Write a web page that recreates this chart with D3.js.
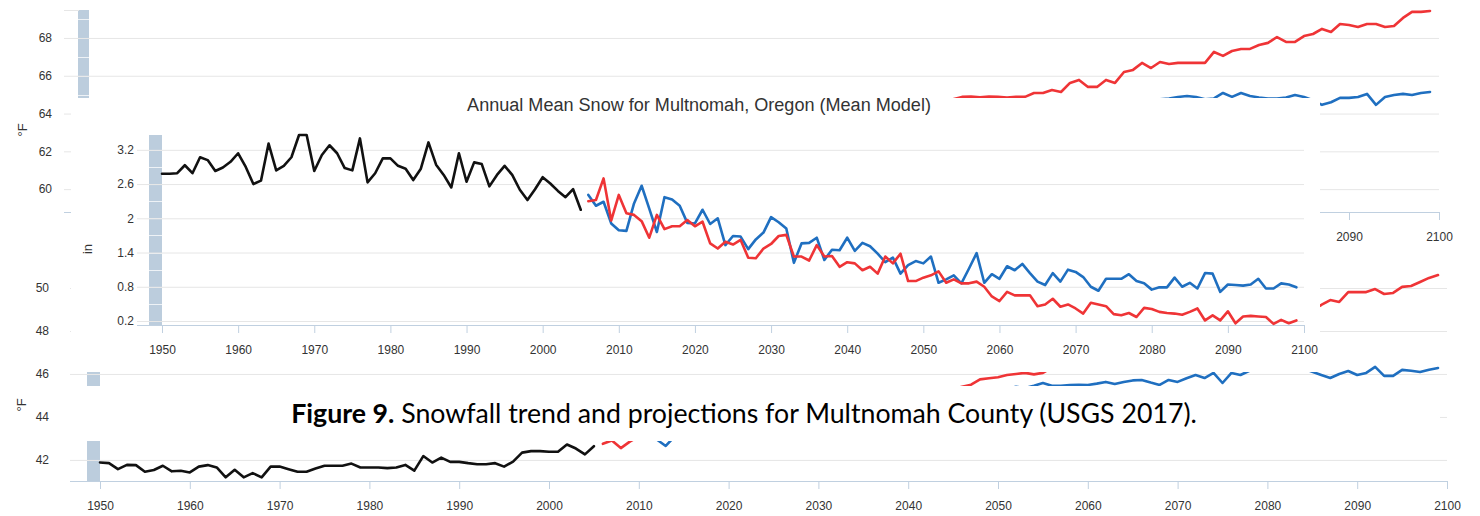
<!DOCTYPE html>
<html><head><meta charset="utf-8">
<script src="https://cdn.jsdelivr.net/npm/d3@7"></script>
<style>
body{margin:0;background:#fff;}
svg{display:block;font-family:"Liberation Sans",Arial,sans-serif;}
</style>
</head><body>
<svg id="c" width="1480" height="516"></svg>
<script>
// ---------------- DATA ----------------
const yearTicks = [1950,1960,1970,1980,1990,2000,2010,2020,2030,2040,2050,2060,2070,2080,2090,2100];

// Snow (inches) - Annual Mean Snow for Multnomah, Oregon
const snowYTicks = [0.2,0.8,1.4,2,2.6,3.2];
const snowHistStart = 1950;
const snowHist = [2.78,2.78,2.79,2.93,2.79,3.07,3.02,2.83,2.89,2.99,
  3.14,2.90,2.60,2.66,3.31,2.84,2.92,3.07,3.46,3.46,
  2.83,3.11,3.28,3.14,2.88,2.84,3.40,2.63,2.79,3.05,
  3.05,2.92,2.87,2.67,2.87,3.33,2.94,2.76,2.54,3.14,
  2.64,2.98,2.95,2.56,2.76,2.92,2.76,2.50,2.32,2.51,
  2.72,2.61,2.48,2.37,2.51,2.15];
const projStart = 2006;
const snowRcp85 = [2.30,2.32,2.70,1.96,
  2.41,2.09,2.06,1.95,1.66,2.06,1.81,1.86,1.86,1.97,
  1.86,1.94,1.56,1.47,1.59,1.54,1.62,1.31,1.30,1.47,
  1.55,1.69,1.71,1.33,1.33,1.26,1.53,1.33,1.34,1.15,
  1.23,1.21,1.09,1.15,1.03,1.33,1.21,1.38,0.90,0.90,
  0.96,1.00,1.07,0.87,0.93,0.86,0.86,0.89,0.80,0.63,
  0.55,0.71,0.65,0.65,0.65,0.46,0.49,0.59,0.45,0.49,
  0.42,0.33,0.52,0.49,0.46,0.32,0.30,0.34,0.27,0.43,
  0.41,0.36,0.34,0.33,0.31,0.36,0.42,0.21,0.30,0.21,
  0.37,0.16,0.28,0.29,0.28,0.27,0.15,0.22,0.16,0.21];
const snowRcp45 = [2.41,2.22,2.29,1.91,
  1.79,1.78,2.26,2.57,2.17,1.76,2.37,2.33,2.22,1.92,
  1.91,2.15,1.90,2.00,1.53,1.69,1.68,1.46,1.63,1.75,
  2.02,1.93,1.82,1.22,1.56,1.57,1.66,1.27,1.45,1.44,
  1.66,1.43,1.57,1.51,1.38,1.23,1.31,1.03,1.18,1.25,
  1.21,1.33,0.87,0.93,1.00,0.86,1.12,1.39,0.87,1.02,
  0.94,1.16,1.09,1.20,1.04,0.89,0.83,1.04,0.89,1.10,
  1.06,0.97,0.80,0.73,0.94,0.94,0.94,1.02,0.90,0.86,
  0.75,0.79,0.79,0.96,0.80,0.87,0.77,1.04,1.03,0.71,
  0.84,0.83,0.82,0.84,0.94,0.77,0.77,0.86,0.84,0.79];

// Background chart 1 (°F, upper) - visible tail of projections
const tmaxYTicks = [60,62,64,66,68];
const tmaxRcp85Start = 2046;
const tmaxRcp85 = [64.75,64.88,64.9,64.86,64.9,
  64.88,64.85,64.88,64.88,65.09,65.09,65.25,65.14,65.62,
  65.78,65.41,65.41,65.78,65.62,66.2,66.31,66.68,66.41,66.73,
  66.62,66.68,66.68,66.68,66.68,67.26,67.05,67.31,67.42,67.42,
  67.63,67.74,68.05,67.79,67.79,68.1,68.21,68.48,68.32,68.74,
  68.69,68.58,68.74,68.74,68.58,68.63,69.06,69.38,69.38,69.43];
const tmaxRcp45Start = 2066;
const tmaxRcp45 = [64.6,64.7,64.65,64.75,64.8,
  64.88,64.93,64.88,64.75,64.8,65.09,64.88,65.09,64.93,
  64.85,64.8,64.8,64.85,64.98,64.88,64.7,64.46,64.6,64.83,
  64.83,64.88,65.04,64.46,64.88,64.98,65.04,64.98,65.09,65.14];

// Background chart 2 (°F, lower)
const tminYTicks = [42,44,46,48,50];
const tminHist = [41.88,41.85,41.57,41.77,41.76,41.45,41.53,41.73,41.47,41.50,
  41.42,41.69,41.76,41.65,41.19,41.54,41.19,41.39,41.19,41.69,
  41.69,41.57,41.45,41.45,41.60,41.73,41.73,41.73,41.83,41.65,
  41.65,41.65,41.62,41.65,41.77,41.50,42.18,41.88,42.11,41.91,
  41.91,41.85,41.80,41.80,41.85,41.69,41.92,42.34,42.41,42.41,
  42.38,42.38,42.72,42.53,42.26,42.64];
const tminRcp85 = [42.75,42.9,42.55,42.85,
  43.1,43.2,43.1,43.4,43.3,43.5,43.6,43.5,43.8,43.7,
  43.9,44.0,43.9,44.1,44.2,44.1,44.4,44.3,44.5,44.6,
  44.5,44.7,44.8,44.7,44.9,45.0,44.9,45.1,45.0,45.2,
  45.1,45.2,45.1,45.3,45.2,45.3,45.4,45.5,45.75,45.8,
  45.85,45.95,46.0,46.05,45.98,46.05,46.3,46.4,46.5,46.6,
  46.7,46.85,46.8,47.0,47.15,47.1,47.3,47.45,47.4,47.6,
  47.7,47.8,47.75,47.9,48.0,48.1,48.05,48.2,48.3,48.4,
  48.45,48.5,48.6,48.7,48.8,49.0,49.21,49.44,49.35,49.81,
  49.81,49.81,49.95,49.72,49.77,50.05,50.09,50.28,50.47,50.60];
const tminRcp45 = [43.15,43.2,43.3,43.15,
  43.25,43.2,42.95,42.65,43.1,43.2,43.1,43.3,43.4,43.3,
  43.5,43.6,43.5,43.7,43.8,43.7,43.9,44.0,43.9,44.1,
  44.2,44.1,44.3,44.4,44.3,44.5,44.6,44.5,44.7,44.8,
  44.7,44.9,45.0,44.9,45.1,45.0,45.2,45.1,45.3,45.2,
  45.35,45.3,45.4,45.35,45.45,45.58,45.45,45.45,45.49,45.5,
  45.49,45.55,45.63,45.53,45.63,45.7,45.72,45.6,45.49,45.72,
  45.63,45.8,45.95,45.81,46.05,45.58,46.05,45.95,46.15,46.2,
  46.25,46.15,46.2,46.2,46.25,46.1,45.95,45.81,46.0,46.14,
  45.95,46.05,46.33,45.91,45.91,46.19,46.15,46.09,46.2,46.28];

const snowTitle = "Annual Mean Snow for Multnomah, Oregon (Mean Model)";
const captionBold = "Figure 9.";
const captionRest = " Snowfall trend and projections for Multnomah County (USGS 2017).";

// ---------------- DRAW ----------------
const svg = d3.select("#c");
const COL = {black:"#111111", red:"#ef3436", blue:"#1f6fc0", bar:"#bccddd", grid:"#e6e6e6", axis:"#c0d0e0", text:"#333333"};
const toPts = (start, arr) => arr.map((v,i)=>({year:start+i, v}));

let clipN = 0;
function panel(o){
  const g = svg.append("g");
  if (o.clip){
    const id = "clip"+(clipN++);
    svg.append("clipPath").attr("id",id).append("rect")
      .attr("x",o.clip[0]).attr("y",o.clip[1]).attr("width",o.clip[2]).attr("height",o.clip[3]);
    g.attr("clip-path",`url(#${id})`);
  }
  const x = d3.scaleLinear().domain([1950,2100]).range([o.x0,o.x1]);
  const y = d3.scaleLinear().domain(o.yDomain).range([o.yBottom,o.yTop]);
  g.append("rect").attr("x",x(1950)-o.barW).attr("width",o.barW)
    .attr("y",o.yTop).attr("height",o.yBottom-o.yTop).attr("fill",COL.bar);
  const minor = [];
  for (let k=-40; k<=40; k++){
    const v = o.yTicks[0] + k*o.minorStep;
    if (v>=o.yDomain[0] && v<=o.yDomain[1]) minor.push(v);
  }
  g.selectAll(null).data(minor).join("line")
    .attr("x1",x(1950)-o.barW).attr("x2",x(1950))
    .attr("y1",d=>Math.round(y(d))+0.5).attr("y2",d=>Math.round(y(d))+0.5)
    .attr("stroke","#eef2f6").attr("stroke-width",1);
  const ya = g.append("g").attr("transform",`translate(${o.gridX0},0)`)
    .call(d3.axisLeft(y).tickValues(o.yTicks).tickSizeInner(-(o.gridX1-o.gridX0)).tickSizeOuter(0)
      .tickPadding(o.labelPad).tickFormat(d=>String(d)));
  ya.select(".domain").remove();
  ya.selectAll("line").attr("stroke",COL.grid).attr("stroke-width",1);
  ya.selectAll("text").attr("fill",COL.text).style("font-size","12px").style("font-family","'Liberation Sans',Arial,sans-serif");
  g.append("line").attr("x1",o.gridX0).attr("x2",x(2100)).attr("y1",o.yBottom+0.5).attr("y2",o.yBottom+0.5)
    .attr("stroke",COL.axis).attr("stroke-width",1);
  const xa = g.append("g").attr("transform",`translate(0,${o.yBottom})`)
    .call(d3.axisBottom(x).tickValues(yearTicks).tickSize(8).tickPadding(12).tickFormat(d3.format("d")));
  xa.select(".domain").remove();
  xa.selectAll("line").attr("stroke",COL.axis);
  xa.selectAll("text").attr("fill",COL.text).style("font-size","12px").style("font-family","'Liberation Sans',Arial,sans-serif");
  g.append("text").attr("transform",`translate(${o.unitX},${o.unitY}) rotate(-90)`)
    .attr("text-anchor","middle").attr("dy","0.35em").attr("fill",COL.text)
    .style("font-size","13px").text(o.unit);
  const line = d3.line().x(d=>x(d.year)).y(d=>y(d.v));
  o.series.forEach(s=>{
    g.append("path").datum(s.pts).attr("d",line).attr("fill","none")
      .attr("stroke",s.color).attr("stroke-width",2.6).attr("stroke-linejoin","round").attr("stroke-linecap","round");
  });
  return g;
}

// Upper background chart
panel({
  clip:[0,0,1480,247],
  x0:89, x1:1439, yTop:10, yBottom:212, yDomain:[58.79,69.48],
  yTicks:tmaxYTicks, minorStep:1, gridX0:64, gridX1:1439, barW:11, labelPad:12,
  unit:"°F", unitX:22, unitY:130,
  series:[
    {pts:toPts(tmaxRcp85Start,tmaxRcp85), color:COL.red},
    {pts:toPts(tmaxRcp45Start,tmaxRcp45), color:COL.blue}
  ]
});
svg.append("line").attr("x1",64).attr("x2",79).attr("y1",10.5).attr("y2",10.5).attr("stroke",COL.grid);

// Lower background chart
panel({
  clip:[0,247,1480,269],
  x0:100, x1:1447, yTop:255, yBottom:481, yDomain:[41.02,51.535],
  yTicks:tminYTicks, minorStep:1, gridX0:70, gridX1:1447, barW:13, labelPad:21,
  unit:"°F", unitX:21, unitY:405,
  series:[
    {pts:toPts(1950,tminHist), color:COL.black},
    {pts:toPts(projStart,tminRcp85), color:COL.red},
    {pts:toPts(projStart,tminRcp45), color:COL.blue}
  ]
});

// Snow chart overlay
svg.append("rect").attr("x",71).attr("y",98).attr("width",1249).attr("height",274).attr("fill","#fff");
panel({
  x0:162, x1:1304, yTop:135, yBottom:325, yDomain:[0.13,3.46],
  yTicks:snowYTicks, minorStep:0.3, gridX0:137, gridX1:1304, barW:13, labelPad:3,
  unit:"in", unitX:87, unitY:249,
  series:[
    {pts:toPts(snowHistStart,snowHist), color:COL.black},
    {pts:toPts(projStart,snowRcp45), color:COL.blue},
    {pts:toPts(projStart,snowRcp85), color:COL.red}
  ]
});
const title = svg.append("text").attr("x",699).attr("y",111).attr("text-anchor","middle")
  .attr("fill",COL.text).style("font-size","15px").text(snowTitle);
{
  const w = title.node().getComputedTextLength();
  title.style("font-size",(15*464/w).toFixed(2)+"px");
}

// Caption band
svg.append("rect").attr("x",58).attr("y",386).attr("width",1382).attr("height",55).attr("fill","#fff");
const cap = svg.append("text").attr("x",744).attr("y",423).attr("text-anchor","middle")
  .style("font-family","Lato,'Open Sans',sans-serif").style("font-size","22px").attr("fill","#000");
cap.append("tspan").style("font-weight","bold").text(captionBold);
cap.append("tspan").text(captionRest);
{
  const w = cap.node().getComputedTextLength();
  cap.style("font-size",(22*906/w).toFixed(2)+"px");
}
</script>
</body></html>
